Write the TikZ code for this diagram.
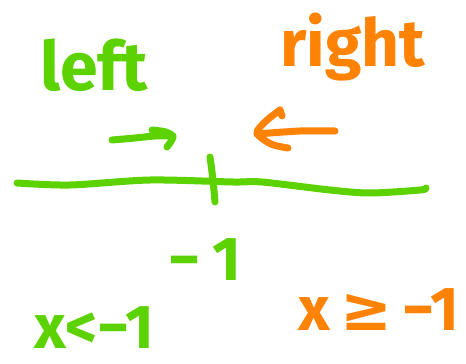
\documentclass[tikz,border=0pt]{standalone}
\usepackage{fontspec}
\setsansfont{Fira Sans}
\newfontfamily\symf{DejaVu Sans}
\renewcommand{\familydefault}{\sfdefault}
\begin{document}
\begin{tikzpicture}[x=1pt,y=-1pt,
  pen/.style={line width=7pt,line cap=round,line join=round},
  lbl/.style={inner sep=0pt,anchor=base west,font=\bfseries},
  ]
\definecolor{penGreen}{RGB}{92,210,0}
\definecolor{penOrange}{RGB}{254,130,4}
\useasboundingbox[fill=white] (0,0) rectangle (466,364);

% labels above the number line
\node[lbl,text=penGreen,font=\bfseries\fontsize{68}{70}\selectfont] (left) at (40,90) {left};
\node[lbl,text=penOrange,font=\bfseries\fontsize{66}{70}\selectfont] (right) at (280,66) {right};

% direction arrows
\draw[pen,penGreen] plot[smooth] coordinates {(112,140) (135,138) (155,136) (173,136)};
\draw[pen,penGreen] plot[smooth] coordinates {(152,130) (166,132) (173,137) (167,147)};
\draw[pen,penOrange] plot[smooth] coordinates {(335,131) (300,131) (257,134)};
\draw[pen,penOrange] plot[smooth] coordinates {(280,110) (266,121) (257,133) (271,144) (288,148)};
\draw[pen,penOrange] (280,110) -- (282,116);

% number line with the tick at -1
\draw[pen,penGreen] plot[smooth] coordinates {(17,183) (70,185) (150,180) (233,182) (262,182) (330,190) (370,193) (420,190) (426,188)};
\draw[pen,penGreen] plot[smooth] coordinates {(210,157) (213,180) (215,202)};

\node[lbl,text=penGreen,font=\bfseries\fontsize{62}{70}\selectfont] (mone) at (168,280) {−\hspace{12pt}1};

% the two inequalities
\node[lbl,text=penGreen,font=\bfseries\fontsize{62}{64}\selectfont] (lt) at (34,348) {x<−1};
\node[lbl,text=penOrange,font=\bfseries\fontsize{62}{70}\selectfont] (ge) at (298,330) {x\,{\symf ≥}\,−1};
\end{tikzpicture}
\end{document}
